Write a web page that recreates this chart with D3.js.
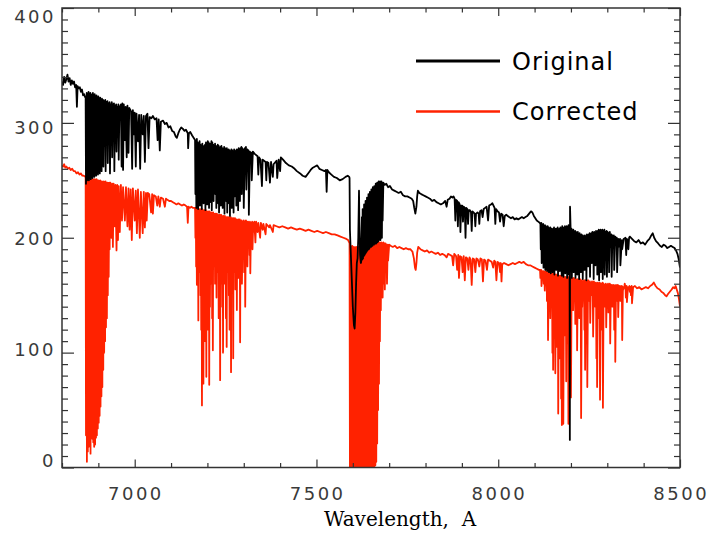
<!DOCTYPE html>
<html>
<head>
<meta charset="utf-8">
<script src="https://d3js.org/d3.v7.min.js"></script>
<style>
  body { margin: 0; background: #fff; }
  .tlabel { font-family: "DejaVu Sans"; font-size: 18px; fill: #3a3a3a; letter-spacing: 2.5px; }
  .legend { font-family: "DejaVu Sans"; font-size: 24px; fill: #000; letter-spacing: 1px; }
  .xtitle { font-family: "DejaVu Serif"; font-size: 20px; fill: #000; white-space: pre; }
</style>
</head>
<body>
<script>
// ---- data: [wavelength, counts] ----
// Original (black)
var origLeft = [[6800,336],[6803,333],[6806,340],[6809,335],[6812,338],[6815,342],[6818,336],[6821,339],[6824,333],[6827,337],[6830,334],[6833,336],[6836,331],[6839,333],[6841,314],[6843,332],[6846,330],[6849,331],[6852,327],[6855,329],[6858,324],[6861,325],[6864,322]];
var origBandB = [[6865,322],[6866,247],[6868,326],[6869,250],[6870,325],[6871,252],[6873,327],[6874,250],[6875,325],[6876,253],[6878,326],[6879,251],[6880,324],[6881,254],[6883,325],[6884,252],[6885,326],[6886,255],[6888,324],[6889,253],[6890,325],[6891,256],[6893,323],[6894,254],[6895,324],[6896,257],[6898,322],[6899,255],[6900,323],[6901,258],[6903,321],[6904,256],[6905,322],[6906,262],[6908,320],[6909,258],[6910,321],[6911,268],
  [6913,320],[6914,262],[6916,319],[6917,280],[6919,320],[6920,258],[6922,318],[6923,290],[6925,319],[6926,265],[6928,317],[6929,300],[6931,318],[6932,256],[6934,316],[6935,285],[6937,318],[6938,270],[6940,316],[6941,295],[6943,317],[6944,258],[6946,315],[6947,300],[6949,316],[6950,275],[6952,314],[6953,305],[6955,316],[6956,268],[6958,313]];
var origMid = [[6962,316],[6964,262],[6966,317],[6968,259],[6970,316],[6973,285],[6975,314],[6978,270],[6980,315],[6983,274],[6985,313],[6990,310],[6993,260],[6995,311],[6998,290],[7000,309],[7003,262],[7005,308],[7009,284],[7012,307],[7015,260],[7018,307],[7022,290],[7025,306],[7028,266],[7031,306],[7035,308],[7038,278],[7041,305],[7046,304],[7050,306],[7055,303],[7060,304],[7063,285],[7066,303],[7069,276],[7072,301],[7078,302],[7083,299],[7088,300],[7093,296],[7098,297],[7103,293],[7108,292],[7113,288],[7116,287],[7120,291],[7124,294],[7128,296],[7132,295],[7137,293],[7141,294],[7146,291],[7147,278],[7149,291],[7153,292],[7158,289],[7162,287]];
var origBand72 = [[7166,285],[7167,238],[7168.5,284],[7169.5,226],[7171,286],[7172,244],[7173.5,283],[7174.5,225],[7176,282],[7177,240],[7178.5,284],[7179.5,228],[7181,281],[7182,246],[7183.5,280],[7184.5,225],[7186,282],[7187,236],[7188.5,279],[7189.5,230],[7191,280],[7192,248],[7193.5,281],[7194.5,224],[7196,283],[7197,242],[7198.5,282],[7199.5,229],[7201,284],[7202,238],[7203.5,283],[7204.5,226],[7206,281],[7207,250],[7208.5,282],[7209.5,231],[7211,284],[7212,224],[7213.5,283],[7214.5,245],[7216,281],[7217,232],[7218.5,280],[7219.5,240],[7221,282],[7222,238],[7223.5,280],[7224.5,226],[7226,279],[7227,245],[7228.5,281],[7229.5,230],[7231,280],[7232,222],[7233.5,278],[7234.5,240],[7236,279],[7237,228],[7238.5,280],[7239.5,250],[7241,278],[7242,226],[7243.5,277],[7244.5,236],[7246,279],[7247,221],[7248.5,278],[7249.5,244],[7251,277],[7252,232],[7253.5,278],[7254.5,222],[7256,276],[7257,248],[7258.5,277],[7259.5,230],[7261,276],[7262,219],[7263.5,275],[7264.5,240],[7266,277],[7267,226],[7268.5,276],[7269.5,252],[7271,275],[7272,222],[7273.5,277],[7274.5,236],[7276,276],[7277,245],[7278.5,275],[7279.5,228],[7281,277],[7282,255],[7283.5,276],[7284.5,224],[7286,278],[7287,248],[7288.5,277],[7289.5,232],[7291,278],[7292,260],[7293.5,279],[7294.5,238],[7296,278],[7297,255],[7299,277],[7300,226],[7303,278],[7304,262],[7306,279],[7307,242],[7310,277],[7311,258],[7313,276],[7314,220],[7317,275],[7318,265],[7321,274],[7322,250],[7325,275]];
var origFlat = [[7330,273],[7338,271],[7340,255],[7342,270],[7346,268],[7350,245],[7352,268],[7360,266],[7362,250],[7364,266],[7368,265],[7372,248],[7375,266],[7380,253],[7382,264],[7390,267],[7392,252],[7396,268],[7400,258],[7402,270],[7408,268],[7416,265],[7424,263],[7432,262],[7440,260],[7446,258],[7455,256],[7462,254],[7470,253],[7477,256],[7484,259],[7490,261],[7496,262],[7502,263],[7508,260],[7515,259],[7522,258],[7526,259],[7528,240],[7530,259],[7534,257],[7541,255],[7548,253],[7556,252],[7564,250],[7572,251],[7580,253],[7586,254],[7590,253]];
var origBandA = [[7591,252],[7592,207],[7594,190],[7597,165],[7600,140],[7603,124],[7605,121],[7607,135],[7609,160],[7611,178],[7613,182],[7615,200],[7617,241],[7618,215],[7620,185],[7622,178],[7623,179],
  [7625,218],[7626,181],[7627,225],[7628,182],[7629,222],[7630,184],[7631,229],[7632,185],[7633,226],[7634,186],[7635,232],[7636,187],[7637,230],[7638,188],[7639,235],[7640,189],[7641,233],[7642,190],[7643,238],[7644,190],[7645,236],[7646,191],[7647,240],[7648,192],[7649,239],[7650,192],[7651,242],[7652,193],[7653,241],[7654,193],[7655,244],[7656,194],[7657,243],[7658,194],[7659,245],[7660,195],[7661,244],[7662,195],[7663,247],[7664,195],[7665,246],[7666,196],[7667,248],[7668,196],[7669,247],[7670,197],[7671,249],[7672,198],[7673,248],[7674,205],[7675,249],[7676,198],[7677,248],[7678,210],[7679,249],[7680,200],[7681,248],[7682,215]];
var origRight = [[7684,248],[7688,246],[7692,247],[7697,244],[7702,245],[7708,242],[7714,241],[7720,240],[7726,239],[7732,240],[7738,237],[7744,236],[7750,236],[7756,235],[7762,234],[7766,232],[7769,226],[7772,221],[7775,227],[7777,236],[7779,241],[7783,239],[7788,238],[7794,237],[7800,236],[7806,235],[7812,234],[7818,232],[7824,233],[7830,231],[7836,230],[7842,229],[7848,230],[7854,232],[7858,227],[7861,233],[7866,234],[7870,236],[7874,235],[7877,236],[7880,234],[7882,215],[7884,233],[7887,232],[7889,210],[7891,231],[7894,229],[7896,205],[7898,228],[7901,228],[7903,214],[7905,227],[7908,226],[7910,200],[7912,226],[7915,225],[7917,212],[7919,224],[7922,224],[7925,222],[7927,206],[7929,223],[7932,222],[7935,221],[7937,210],[7939,221],[7943,222],[7946,221],[7948,212],[7950,223],[7954,224],[7957,218],[7960,225],[7964,226],[7968,227],[7972,215],[7975,228],[7980,229],[7984,230],[7987,228],[7990,226],[7992,212],[7994,225],[7998,223],[8002,222],[8005,214],[8008,221],[8012,220],[8015,210],[8018,219],[8022,220],[8026,219],[8030,218],[8035,217],[8040,218],[8045,216],[8050,217],[8055,216],[8060,217],[8065,218],[8070,217],[8075,218],[8080,219],[8085,221],[8090,223],[8094,222],[8098,219],[8102,217],[8106,215],[8110,214],[8114,213]];
var origBand82 = [[8116,212],[8117,190],[8118.5,213],[8119.5,178],[8121,211],[8122,192],[8123.5,212],[8124.5,174],[8126,210],[8127,188],[8128.5,211],[8129.5,172],[8131,210],[8132,195],[8133.5,209],[8134.5,171],[8136,210],[8137,186],[8138.5,209],[8139.5,170],[8141,208],[8142,194],[8143.5,209],[8144.5,169],[8146,208],[8147,189],[8148.5,207],[8149.5,170],[8151,208],[8152,193],[8153.5,209],[8154.5,168],[8156,207],[8157,187],[8158.5,208],[8159.5,172],[8161,208],[8162,196],[8163.5,209],[8164.5,167],[8166,207],[8167,190],[8168.5,208],[8169.5,171],[8171,209],[8172,188],[8173.5,208],[8174.5,167],[8176,210],[8177,195],[8178.5,209],[8179.5,166],[8181,208],[8182,189],[8183.5,210],[8184.5,169],[8186,209],[8187,193],[8188.5,210],[8189.5,165],[8191,209],[8192,190],[8193.5,211],[8194.5,168],[8196,210],[8197,24],[8197.5,227],[8199,209],[8200,188],[8201.5,208],[8202.5,165],[8204,206],[8205,192],[8206.5,207],[8207.5,170],[8209,205],[8210,186],[8211.5,206],[8212.5,165],[8214,205],[8215,194],[8216.5,204],[8217.5,168],[8219,205],[8220,189],[8221.5,203],[8222.5,164],[8224,204],[8225,192],[8226.5,202],[8227.5,170],[8229,203],[8230,187],[8231.5,202],[8232.5,164],[8234,201],[8235,193],[8236.5,202],[8237.5,172],[8239,201],[8240,186],[8241.5,202],[8242.5,163],[8244,203],[8245,190],[8246.5,202],[8247.5,175],[8249,203],[8250,192],[8251.5,204],[8252.5,166],[8254,203],[8255,188],[8256.5,204],[8257.5,178],[8259,205],[8260,194],[8261.5,204],[8262.5,164],[8264,205],[8265,190],[8266.5,204],[8267.5,176],[8269,206],[8270,193],[8271.5,205],[8272.5,168],[8274,206],[8275,188],[8276.5,207],[8277.5,163],[8279,206],[8280,195],[8281.5,207],[8282.5,170],[8284,206],[8285,190],[8286.5,207],[8287.5,164],[8289,206],[8290,196],[8292,207],[8293,168],[8295,205],[8296,190],[8298,206],[8299,166],[8301,205],[8302,194],[8304,204],[8305,170],[8307,205],[8308,192],[8311,203],[8312,166],[8314,202],[8315,195],[8318,202],[8319,172],[8322,201],[8323,194],[8326,200],[8327,170],[8330,199],[8331,192],[8335,199],[8336,176],[8340,198],[8341,190],[8345,199]];
var origTail = [[8350,200],[8352,185],[8354,199],[8356,198],[8358,190],[8360,200],[8362,201],[8368,199],[8374,197],[8380,196],[8386,198],[8392,195],[8398,196],[8404,194],[8410,197],[8416,199],[8421,202],[8425,204],[8429,200],[8434,197],[8440,195],[8445,193],[8450,192],[8455,194],[8460,193],[8465,191],[8470,192],[8475,193],[8480,192],[8485,191],[8489,189],[8493,186],[8496,182],[8500,174]];

// Corrected (red)
var corrLeft = [[6800,263],[6803,262],[6806,264],[6809,261],[6812,262],[6816,260],[6820,261],[6824,259],[6828,260],[6832,258],[6836,258],[6840,256],[6844,257],[6848,255],[6852,256],[6856,254],[6860,254],[6864,253]];
var corrBandB = [[6865,253],[6866,28],[6867.5,252],[6868.5,5],[6870,253],[6871,14],[6872.5,251],[6873.5,18],[6875,252],[6876,24],[6877.5,251],[6878.5,12],[6880,252],[6881,30],[6882.5,250],[6883.5,25],[6885,251],[6886,22],[6887.5,250],[6888.5,18],[6890,251],[6891,20],[6892.5,250],[6893.5,26],[6895,251],[6896,28],[6897.5,250],[6898.5,34],[6900,250],[6901,39],[6902.5,249],[6903.5,45],[6905,250],[6906,53],[6907.5,249],[6908.5,62],[6910,249],[6911,70],[6912.5,248],[6913.5,85],[6915,249],[6916,100],[6917.5,248],[6918.5,110],[6920,249],[6921,122],[6922.5,247],[6923.5,130],[6925,248],[6926,150],[6927.5,247],[6928.5,166],[6930,248]];
var corrMid = [[6931,190],[6933,248],[6936,200],[6938,247],[6940,192],[6942,247],[6945,210],[6947,246],[6950,189],[6952,246],[6954,198],[6956,245],[6959,205],[6962,246],[6965,215],[6968,244],[6973,215],[6976,244],[6980,210],[6983,243],[6986,207],[6989,242],[6992,198],[6995,243],[7000,215],[7003,241],[7006,204],[7009,242],[7014,200],[7017,240],[7022,204],[7025,240],[7028,209],[7031,239],[7033,215],[7036,239],[7040,238],[7045,222],[7048,238],[7050,221],[7053,237],[7058,236],[7062,228],[7065,236],[7069,227],[7072,235],[7078,234],[7083,227],[7086,234],[7090,233],[7095,232],[7100,232],[7105,231],[7110,230],[7115,229],[7120,230],[7125,229],[7130,228],[7135,229],[7140,228],[7144,227],[7146,213],[7148,227],[7152,226],[7156,227],[7160,226],[7164,226]];
var corrBand72 = [[7166,226],[7167,200],[7168,226],[7169,175],[7170,225],[7171,159],[7172,226],[7173,185],[7174,225],[7175,128],[7176,224],[7177,170],[7178,225],[7179,190],[7180,224],[7181,150],[7182,225],[7183,120],[7184,224],[7185,54],[7186,225],[7187,140],[7188,224],[7189,73],[7190,223],[7191,165],[7192,224],[7193,110],[7194,223],[7195,180],[7196,224],[7197,79],[7198,223],[7199,150],[7200,222],[7201,120],[7202,223],[7203,170],[7204,222],[7205,72],[7206,223],[7207,140],[7208,222],[7209,185],[7210,221],[7211,160],[7212,222],[7213,130],[7214,221],[7215,102],[7216,222],[7217,175],[7218,221],[7219,190],[7220,220],[7221,160],[7222,221],[7223,180],[7224,220],[7225,148],[7226,221],[7227,195],[7228,220],[7229,170],[7230,220],[7231,130],[7232,219],[7233,185],[7234,220],[7235,76],[7236,219],[7237,160],[7238,220],[7239,190],[7240,219],[7241,140],[7242,218],[7243,100],[7244,219],[7245,175],[7246,218],[7247,160],[7248,219],[7249,190],[7250,218],[7251,130],[7252,218],[7253,105],[7254,217],[7255,170],[7256,218],[7257,185],[7258,217],[7259,150],[7260,218],[7261,120],[7262,217],[7263,175],[7264,218],[7265,83],[7266,217],[7267,165],[7268,217],[7269,190],[7270,216],[7271,95],[7272,217],[7273,170],[7274,216],[7275,185],[7276,217],[7277,155],[7278,216],[7279,195],[7280,216],[7281,137],[7282,215],[7283,180],[7285,216],[7286,165],[7287,215],[7288,190],[7289,216],[7290,109],[7291,215],[7292,175],[7294,215],[7295,160],[7297,214],[7298,195],[7300,215],[7301,170],[7303,214],[7304,140],[7306,215],[7307,190],[7309,214],[7310,175],[7312,214],[7313,200],[7315,213],[7316,185],[7317,214],[7318,169],[7320,213],[7321,198],[7323,214],[7324,190],[7326,213],[7327,205],[7329,214]];
var corrFlat = [[7332,196],[7334,214],[7338,205],[7340,213],[7345,200],[7347,213],[7352,207],[7354,212],[7360,203],[7362,212],[7370,209],[7372,211],[7380,205],[7382,211],[7390,210],[7398,209],[7406,210],[7414,209],[7422,208],[7430,209],[7438,208],[7446,207],[7454,208],[7462,207],[7470,206],[7478,207],[7486,206],[7494,205],[7502,206],[7510,205],[7518,204],[7526,205],[7534,204],[7542,203],[7550,203],[7558,202],[7566,201],[7574,200],[7582,199],[7587,198],[7590,196]];
var corrBandA = [[7591,195],[7592,0],[7593.5,193],[7594.5,0],[7596,192],[7597,1],[7598.5,193],[7599.5,0],[7601,192],[7602,0],[7603.5,191],[7604.5,1],[7606,192],[7607,0],[7608.5,191],[7609.5,0],[7611,192],[7612,1],[7613.5,191],[7614.5,0],[7616,192],[7617,0],[7618.5,192],[7619.5,1],[7621,193],[7622,0],[7623.5,192],[7624.5,0],[7626,193],[7627,1],[7628.5,192],[7629.5,0],[7631,193],[7632,0],[7633.5,193],[7634.5,1],[7636,194],[7637,0],[7638.5,193],[7639.5,0],[7641,194],[7642,1],[7643.5,193],[7644.5,0],[7646,194],[7647,0],[7648.5,194],[7649.5,1],[7651,195],[7652,0],[7653.5,194],[7654.5,0],[7656,194],[7657,1],[7658.5,195],[7659.5,0],[7661,194],[7662,2],[7663.5,195],[7664.5,5],
  [7666,195],[7667,21],[7668.5,195],[7669.5,50],[7671,196],[7672,73],[7673.5,196],[7674.5,110],[7676,195],[7677,137],[7678.5,196],[7679.5,150],[7681,195],[7682,148],[7684,196],[7685,160],[7687,195],[7688,155],[7690,195],[7691,170],[7693,194],[7694,160],[7696,194],[7697,180],[7700,194]];
var corrRight = [[7704,193],[7710,192],[7716,193],[7722,191],[7728,192],[7734,191],[7740,190],[7746,191],[7752,190],[7758,190],[7764,188],[7768,182],[7771,174],[7773,172],[7775,178],[7777,187],[7780,192],[7786,190],[7792,189],[7798,188],[7804,189],[7810,187],[7816,188],[7822,187],[7828,186],[7834,187],[7840,185],[7846,186],[7852,185],[7858,183],[7862,186],[7868,185],[7873,184],[7876,176],[7879,186],[7884,184],[7887,172],[7890,185],[7892,165],[7895,184],[7899,183],[7902,170],[7905,184],[7908,163],[7911,183],[7915,182],[7918,172],[7921,183],[7924,181],[7927,159],[7930,182],[7934,181],[7937,170],[7940,182],[7944,181],[7948,175],[7951,182],[7955,181],[7958,162],[7961,181],[7965,180],[7969,172],[7972,181],[7977,180],[7982,179],[7986,174],[7989,180],[7992,179],[7995,163],[7998,179],[8002,178],[8005,170],[8007,178],[8009,162],[8011,177],[8016,178],[8022,177],[8028,176],[8034,177],[8040,178],[8046,177],[8052,178],[8058,179],[8064,178],[8070,179],[8076,177],[8082,176],[8088,176],[8094,175],[8100,174],[8106,173],[8112,172]];
var corrBand82 = [[8115,172],[8116,165],[8118,172],[8119,158],[8121,171],[8122,166],[8124,171],[8125,160],[8127,170],[8128,154],[8130,171],[8131,162],[8133,170],[8134,145],[8136,170],[8137,111],[8139,169],[8140,150],[8142,170],[8143,130],[8145,169],[8146,140],[8148,169],[8149,100],[8150,168],[8151,85],[8153,169],[8154,120],[8156,168],[8157,82],[8159,168],[8160,105],[8162,167],[8163,130],[8164,168],[8165,47],[8167,167],[8168,95],[8170,167],[8171,125],[8172,166],[8173,60],[8174,167],[8175,37],[8176,166],[8177,90],[8178,166],[8179,38],[8181,166],[8182,115],[8184,165],[8185,140],[8186,166],[8187,75],[8188,165],[8189,108],[8190,165],[8191,130],[8192,166],[8193,38],[8195,165],[8196,90],[8197,165],[8198,120],[8199,164],[8200,61],[8202,165],[8203,150],[8205,164],[8206,137],[8208,165],[8209,155],[8211,164],[8212,125],[8214,164],[8215,145],[8216,163],[8217,102],[8219,164],[8220,150],[8222,163],[8223,130],[8225,164],[8226,155],[8227,163],[8228,43],[8230,163],[8231,140],[8233,162],[8234,155],[8236,163],[8237,120],[8238,162],[8239,85],[8241,163],[8242,150],[8244,162],[8245,70],[8247,163],[8248,145],[8250,162],[8251,160],[8252,162],[8253,126],[8255,161],[8256,150],[8258,162],[8259,155],[8260,161],[8261,114],[8263,162],[8264,150],[8266,161],[8267,140],[8269,161],[8270,95],[8271,160],[8272,70],[8274,161],[8275,150],[8277,160],[8278,130],[8279,161],[8280,59],[8282,160],[8283,145],[8284,160],[8285,120],[8287,161],[8288,52],[8290,160],[8291,150],[8293,159],[8294,140],[8296,160],[8297,122],[8299,159],[8300,155],[8302,160],[8303,135],[8305,159],[8306,150],[8307,160],[8308,108],[8310,159],[8311,155],[8313,159],[8314,140],[8316,158],[8317,150],[8318,159],[8319,120],[8321,158],[8322,92],[8324,159],[8325,150],[8327,158],[8328,145],[8329,159],[8330,131],[8332,158],[8333,155],[8335,158],[8336,145],[8338,157],[8339,150],[8340,158],[8341,111],[8343,157],[8344,155],[8347,158],[8348,160],[8350,157],[8351,148],[8353,158],[8354,144],[8357,157],[8358,155],[8361,158],[8362,153],[8364,157],[8365,150],[8367,158],[8368,143],[8371,157]];
var corrTail = [[8376,158],[8382,156],[8388,157],[8394,155],[8400,156],[8406,157],[8412,156],[8418,158],[8423,159],[8428,161],[8433,158],[8438,156],[8444,155],[8449,153],[8454,152],[8459,150],[8463,149],[8467,151],[8472,153],[8477,155],[8481,157],[8485,156],[8488,158],[8491,155],[8494,152],[8497,147],[8500,140]];

var xLabelTicks = [7000, 7500, 8000, 8500];
var yLabelTicks = [0, 100, 200, 300, 400];
var legendNames = ["Original", "Corrected"];
var seriesColors = ["#000000", "#ff2200"];

var original = [].concat(origLeft, origBandB, origMid, origBand72, origFlat, origBandA, origRight, origBand82, origTail);
var corrected = [].concat(corrLeft, corrBandB, corrMid, corrBand72, corrFlat, corrBandA, corrRight, corrBand82, corrTail);

// ---- layout ----
var W = 709, H = 544;
var pLeft = 62, pRight = 680, pTop = 8, pBottom = 467.5;

var x = d3.scaleLinear().domain([6800, 8500]).range([pLeft, pRight]);
var y = d3.scaleLinear().domain([0, 400]).range([pBottom, pTop]);
// labels are sitting a bit off the tick marks in the original
var yLab = d3.scaleLinear().domain([0, 400]).range([461, 16.5]);

var svg = d3.select("body").append("svg")
    .attr("width", W)
    .attr("height", H);

svg.append("clipPath").attr("id", "plotclip")
  .append("rect")
    .attr("x", pLeft).attr("y", pTop)
    .attr("width", pRight - pLeft).attr("height", pBottom - pTop);

var line = d3.line()
    .x(function(d) { return x(d[0]); })
    .y(function(d) { return y(d[1]); });

var plot = svg.append("g").attr("clip-path", "url(#plotclip)");

plot.append("path")
    .datum(corrected)
    .attr("fill", "none")
    .attr("stroke", seriesColors[1])
    .attr("stroke-width", 1.8)
    .attr("stroke-linejoin", "round")
    .attr("d", line);

plot.append("path")
    .datum(original)
    .attr("fill", "none")
    .attr("stroke", seriesColors[0])
    .attr("stroke-width", 1.8)
    .attr("stroke-linejoin", "round")
    .attr("d", line);

// ---- axes (ticks on all four sides, pointing inwards) ----
var axisColor = "#333";
var xMinor = d3.range(6800, 8501, 100).filter(function(v) { return xLabelTicks.indexOf(v) < 0; });
var yMinor = d3.range(0, 401, 10).filter(function(v) { return v % 100 != 0; });

function styleAxis(g) {
    g.select(".domain").remove();
    g.selectAll("line").attr("stroke", axisColor).attr("stroke-width", 1.2);
    g.selectAll("text").remove();
}

svg.append("g").attr("transform", "translate(0," + pBottom + ")")
    .call(d3.axisBottom(x).tickValues(xLabelTicks).tickSize(-8)).call(styleAxis);
svg.append("g").attr("transform", "translate(0," + pBottom + ")")
    .call(d3.axisBottom(x).tickValues(xMinor).tickSize(-4.5)).call(styleAxis);
svg.append("g").attr("transform", "translate(0," + pTop + ")")
    .call(d3.axisTop(x).tickValues(xLabelTicks).tickSize(-8)).call(styleAxis);
svg.append("g").attr("transform", "translate(0," + pTop + ")")
    .call(d3.axisTop(x).tickValues(xMinor).tickSize(-4.5)).call(styleAxis);

svg.append("g").attr("transform", "translate(" + pLeft + ",0)")
    .call(d3.axisLeft(y).tickValues(yLabelTicks).tickSize(-12)).call(styleAxis);
svg.append("g").attr("transform", "translate(" + pLeft + ",0)")
    .call(d3.axisLeft(y).tickValues(yMinor).tickSize(-6)).call(styleAxis);
svg.append("g").attr("transform", "translate(" + pRight + ",0)")
    .call(d3.axisRight(y).tickValues(yLabelTicks).tickSize(-12)).call(styleAxis);
svg.append("g").attr("transform", "translate(" + pRight + ",0)")
    .call(d3.axisRight(y).tickValues(yMinor).tickSize(-6)).call(styleAxis);

svg.append("rect")
    .attr("x", pLeft).attr("y", pTop)
    .attr("width", pRight - pLeft).attr("height", pBottom - pTop)
    .attr("fill", "none")
    .attr("stroke", axisColor)
    .attr("stroke-width", 1.5);

// tick labels
svg.selectAll(".xl").data(xLabelTicks).enter().append("text")
    .attr("class", "tlabel")
    .attr("x", function(d) { return x(d) + 1.2; })
    .attr("y", 500)
    .attr("text-anchor", "middle")
    .text(function(d) { return d; });

svg.selectAll(".yl").data(yLabelTicks).enter().append("text")
    .attr("class", "tlabel")
    .attr("x", 56)
    .attr("y", function(d) { return yLab(d); })
    .attr("dy", "0.36em")
    .attr("text-anchor", "end")
    .text(function(d) { return d; });

svg.append("text")
    .attr("class", "xtitle")
    .attr("x", 400)
    .attr("y", 526)
    .attr("text-anchor", "middle")
    .text("Wavelength,  A");

// legend
var legend = svg.selectAll(".leg").data(legendNames).enter().append("g")
    .attr("transform", function(d, i) { return "translate(416," + (61 + i * 50.5) + ")"; });
legend.append("line")
    .attr("x1", 0).attr("x2", 84)
    .attr("stroke", function(d, i) { return seriesColors[i]; })
    .attr("stroke-width", function(d, i) { return i == 0 ? 3 : 2.6; });
legend.append("text")
    .attr("class", "legend")
    .attr("x", 96)
    .attr("y", 8.5)
    .text(function(d) { return d; });
</script>
</body>
</html>
